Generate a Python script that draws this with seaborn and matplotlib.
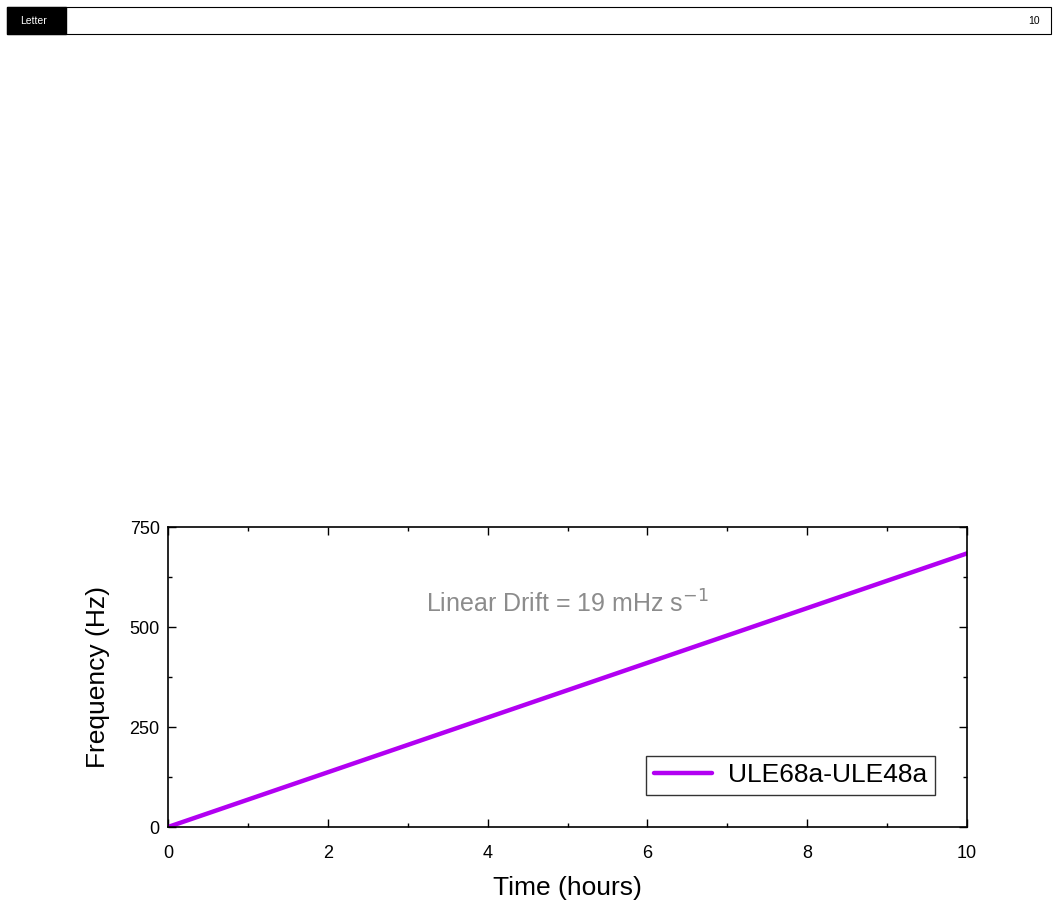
import numpy as np
import matplotlib
matplotlib.use('Agg')
import matplotlib.pyplot as plt
import seaborn as sns
from matplotlib.patches import Rectangle
from matplotlib.ticker import MultipleLocator

# data
time_hours = [0, 10]
freq_hz = [0, 684]
series_name = 'ULE68a-ULE48a'
x_ticks = [0, 2, 4, 6, 8, 10]
y_ticks = [0, 250, 500, 750]

sns.set_style('ticks')
plt.rcParams['font.family'] = ['Liberation Sans', 'DejaVu Sans']
plt.rcParams['text.color'] = 'black'
plt.rcParams['axes.labelcolor'] = 'black'

fig = plt.figure(figsize=(10.58, 9.14), dpi=100)

# page header strip
fig.patches.append(Rectangle((7 / 1058, 1 - 34 / 914), 1044 / 1058, 27 / 914,
                             transform=fig.transFigure, fill=False, ec='black', lw=0.8))
fig.patches.append(Rectangle((7 / 1058, 1 - 34 / 914), 59 / 1058, 27 / 914,
                             transform=fig.transFigure, fc='black', ec='black'))
fig.text(20 / 1058, 1 - 21 / 914, 'Letter', color='white', fontsize=7.5, va='center')
fig.text(1040 / 1058, 1 - 21 / 914, '10', color='black', fontsize=7.5, va='center', ha='right')

ax = fig.add_axes([168 / 1058, 1 - 827 / 914, 799 / 1058, 300 / 914])
sns.lineplot(x=time_hours, y=freq_hz, color='#B200F2', lw=3.2, label=series_name, ax=ax)

ax.set_xlim(0, 10)
ax.set_ylim(0, 750)
ax.set_xticks(x_ticks)
ax.set_yticks(y_ticks)
ax.xaxis.set_minor_locator(MultipleLocator(1))
ax.yaxis.set_minor_locator(MultipleLocator(125))
ax.tick_params(which='both', direction='in', top=True, right=True, labelsize=13,
               width=1, colors='black')
ax.tick_params(which='major', length=6)
ax.tick_params(which='minor', length=3)
ax.tick_params(axis='x', pad=13)
ax.tick_params(axis='y', pad=6)
for s in ax.spines.values():
    s.set_linewidth(1.2)
    s.set_color('black')
ax.set_xlabel('Time (hours)', fontsize=19, labelpad=10)
ax.set_ylabel('Frequency (Hz)', fontsize=19, labelpad=14)

ax.text(5.0, 557, 'Linear Drift = 19 mHz s$^{-1}$', color='#8c8c8c', fontsize=18,
        ha='center', va='center')

leg = ax.legend(loc='lower right', fontsize=19, frameon=True, fancybox=False,
                edgecolor='black', borderaxespad=1.2, handlelength=2.2,
                borderpad=0.3, handletextpad=0.6)
leg.get_frame().set_linewidth(1)

fig.savefig('out.png', dpi=100)
